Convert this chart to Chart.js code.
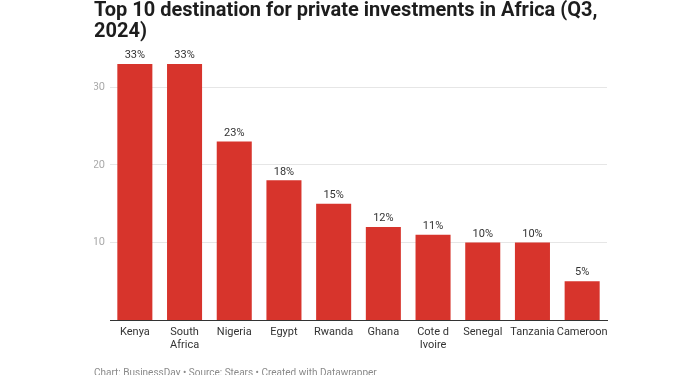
<!DOCTYPE html>
<html>
<head>
<meta charset="utf-8">
<script src="https://cdn.jsdelivr.net/npm/chart.js@4/dist/chart.umd.min.js"></script>
<style>
  html, body { margin: 0; padding: 0; background: #fff; }
  #wrap { width: 700px; height: 375px; position: relative; }
</style>
</head>
<body>
<div id="wrap"><canvas id="chart"></canvas></div>
<script>
const countries = ['Kenya', ['South', 'Africa'], 'Nigeria', 'Egypt', 'Rwanda', 'Ghana', ['Cote d', 'Ivoire'], 'Senegal', 'Tanzania', 'Cameroon'];
const shares = [33, 33, 23, 18, 15, 12, 11, 10, 10, 5];
const yTicks = [10, 20, 30];

const titleLines = ['Top 10 destination for private investments in Africa (Q3,', '2024)'];
const footerText = 'Chart: BusinessDay \u2022 Source: Stears \u2022 Created with Datawrapper';

// title, footer and the % labels above each bar
const textPlugin = {
    id: 'textPlugin',
    afterDraw(chart) {
        const ctx = chart.ctx;
        ctx.save();
        ctx.fillStyle = '#1d1d1d';
        ctx.font = 'bold 20px Roboto';
        ctx.textAlign = 'left';
        ctx.textBaseline = 'alphabetic';
        ctx.fillText(titleLines[0], 94, 16);
        ctx.fillText(titleLines[1], 94, 37);

        ctx.fillStyle = '#8a8a8a';
        ctx.font = '10px Roboto';
        ctx.textBaseline = 'top';
        ctx.fillText(footerText, 94, 368);

        ctx.fillStyle = '#333';
        ctx.font = '11px Roboto';
        ctx.textAlign = 'center';
        ctx.textBaseline = 'bottom';
        chart.getDatasetMeta(0).data.forEach((bar, i) => {
            ctx.fillText(shares[i] + '%', bar.x, bar.y - 3);
        });
        ctx.restore();
    }
};

new Chart(document.getElementById('chart'), {
    type: 'bar',
    data: {
        labels: countries,
        datasets: [{
            data: shares,
            backgroundColor: '#d7342c',
            categoryPercentage: 1,
            barPercentage: 0.705
        }]
    },
    options: {
        responsive: true,
        maintainAspectRatio: false,
        animation: false,
        layout: { padding: { top: 64, left: 94, right: 93, bottom: 0 } },
        plugins: {
            legend: { display: false },
            tooltip: { enabled: false }
        },
        scales: {
            x: {
                grid: { display: false },
                border: { color: '#333', width: 1 },
                ticks: {
                    color: '#333',
                    font: { family: 'Roboto', size: 11, lineHeight: 1.15 },
                    padding: -2,
                    maxRotation: 0,
                    autoSkip: false
                },
                afterFit(scale) { scale.height = 55; }
            },
            y: {
                min: 0,
                max: 33,
                afterBuildTicks(scale) { scale.ticks = yTicks.map(v => ({ value: v })); },
                grid: { color: '#e6e6e6', drawTicks: false },
                border: { display: false },
                ticks: {
                    color: '#aaa',
                    font: { family: 'Roboto', size: 11 },
                    padding: 5
                },
                afterFit(scale) { scale.width = 16; }
            }
        }
    },
    plugins: [textPlugin]
});
</script>
</body>
</html>
